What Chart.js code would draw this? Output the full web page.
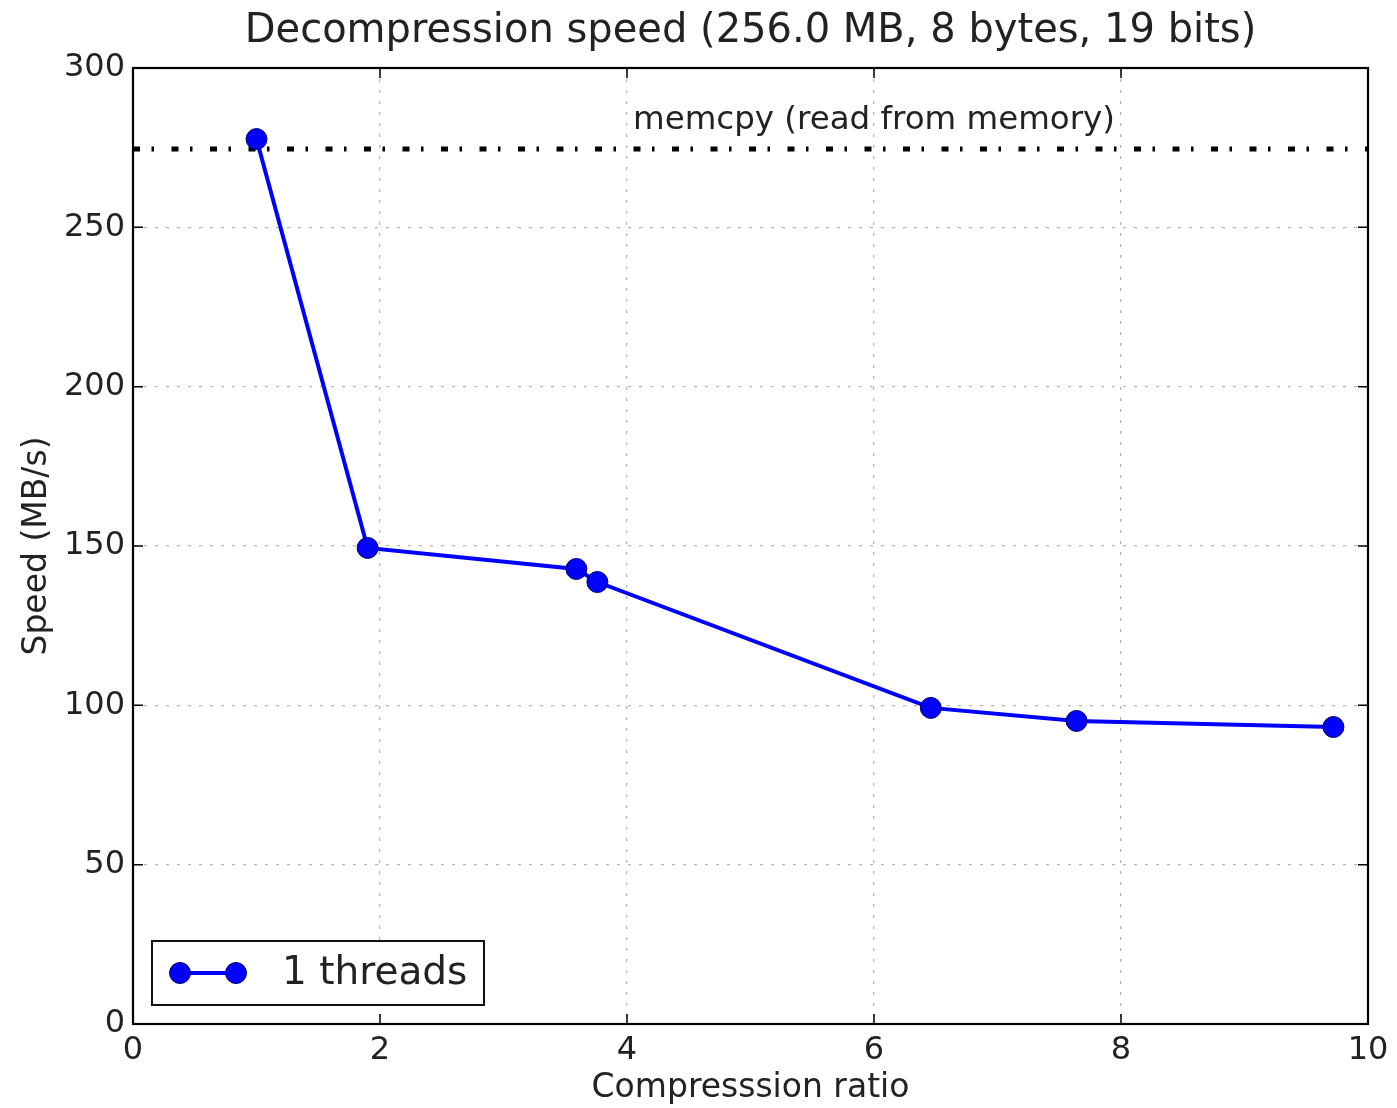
<!DOCTYPE html>
<html>
<head>
<meta charset="utf-8">
<script src="https://cdn.jsdelivr.net/npm/chart.js@4/dist/chart.umd.min.js"></script>
<style>
html,body{margin:0;padding:0;background:#fff;}
#c{display:block;}
</style>
</head>
<body>
<canvas id="c" width="1397" height="1108"></canvas>
<script>
// ---- data ----
const titleText = 'Decompression speed (256.0 MB, 8 bytes, 19 bits)';
const xLabel = 'Compresssion ratio';
const yLabel = 'Speed (MB/s)';
const seriesName = '1 threads';
const ratios = [1.00, 1.90, 3.59, 3.76, 6.46, 7.64, 9.72];
const speeds = [277.7, 149.4, 142.8, 138.7, 99.2, 95.1, 93.2];
const memcpyLabel = 'memcpy (read from memory)';
const memcpySpeed = 274.6;
const memcpyX = [0, 10];
const xTicks = [0, 2, 4, 6, 8, 10];
const yTicks = [0, 50, 100, 150, 200, 250, 300];
const annotX = 6.0;
const annotY = 283.4;

const FONT = "'DejaVu Sans', 'Bitstream Vera Sans', sans-serif";
const TXT = '#222';
const BLUE = '#0000ff';

const framePlugin = {
  id: 'frame',
  afterDraw(chart) {
    const {ctx, chartArea: a, scales} = chart;
    const xs = scales.x, ys = scales.y;
    ctx.save();
    // inward ticks
    ctx.strokeStyle = '#000';
    ctx.lineWidth = 1.5;
    const tl = 10;
    xTicks.forEach(v => {
      const px = xs.getPixelForValue(v);
      ctx.beginPath();
      ctx.moveTo(px, a.bottom); ctx.lineTo(px, a.bottom - tl);
      ctx.moveTo(px, a.top); ctx.lineTo(px, a.top + tl);
      ctx.stroke();
    });
    yTicks.forEach(v => {
      const py = ys.getPixelForValue(v);
      ctx.beginPath();
      ctx.moveTo(a.left, py); ctx.lineTo(a.left + tl, py);
      ctx.moveTo(a.right, py); ctx.lineTo(a.right - tl, py);
      ctx.stroke();
    });
    // frame
    ctx.lineWidth = 2.2;
    ctx.strokeRect(a.left, a.top, a.right - a.left, a.bottom - a.top);
    // title centred over the plot area
    ctx.fillStyle = TXT;
    ctx.font = '40px ' + FONT;
    ctx.textAlign = 'center';
    ctx.textBaseline = 'middle';
    ctx.fillText(titleText, (a.left + a.right) / 2, 32);
    // annotation
    ctx.font = '32.5px ' + FONT;
    ctx.fillText(memcpyLabel, xs.getPixelForValue(annotX), ys.getPixelForValue(annotY));
    // legend
    const bx = a.left + 19, by = a.bottom - 83, bw = 332, bh = 64;
    ctx.fillStyle = '#fff';
    ctx.fillRect(bx, by, bw, bh);
    ctx.strokeStyle = '#111';
    ctx.lineWidth = 2;
    ctx.strokeRect(bx, by, bw, bh);
    const ly = by + bh / 2;
    ctx.strokeStyle = BLUE;
    ctx.lineWidth = 4;
    ctx.beginPath();
    ctx.moveTo(bx + 28, ly); ctx.lineTo(bx + 84, ly);
    ctx.stroke();
    ctx.fillStyle = BLUE;
    [bx + 28, bx + 84].forEach(cx => {
      ctx.beginPath();
      ctx.arc(cx, ly, 10.5, 0, Math.PI * 2);
      ctx.fill();
      ctx.lineWidth = 1;
      ctx.strokeStyle = '#000060';
      ctx.stroke();
    });
    ctx.fillStyle = TXT;
    ctx.font = '39px ' + FONT;
    ctx.textAlign = 'left';
    ctx.textBaseline = 'middle';
    ctx.fillText(seriesName, bx + 130, ly + 1);
    ctx.restore();
  }
};

const gridColor = (ctx, edges) => {
  const v = ctx.tick ? ctx.tick.value : null;
  return edges.includes(v) ? 'rgba(0,0,0,0)' : '#b5b5b5';
};

new Chart(document.getElementById('c'), {
  type: 'line',
  data: {
    datasets: [
      {
        label: seriesName,
        data: ratios.map((r, i) => ({x: r, y: speeds[i]})),
        borderColor: BLUE,
        backgroundColor: BLUE,
        borderWidth: 4,
        pointRadius: 10.5,
        pointBackgroundColor: BLUE,
        pointBorderColor: '#000060',
        pointBorderWidth: 1,
        tension: 0,
        fill: false,
        clip: false
      },
      {
        label: memcpyLabel,
        data: memcpyX.map(x => ({x: x, y: memcpySpeed})),
        borderColor: '#000',
        borderWidth: 5,
        borderDash: [7, 11.5, 2.5, 17.5],
        borderCapStyle: 'butt',
        pointRadius: 0,
        fill: false
      }
    ]
  },
  options: {
    responsive: false,
    animation: false,
    events: [],
    layout: {padding: {left: 0, right: 29, top: 68, bottom: 0}},
    plugins: {
      legend: {display: false},
      tooltip: {enabled: false},
      title: {display: false}
    },
    scales: {
      x: {
        type: 'linear',
        min: 0, max: 10,
        afterBuildTicks: s => { s.ticks = xTicks.map(v => ({value: v})); },
        afterFit: s => { s.height = 84; },
        ticks: {
          color: TXT,
          font: {family: FONT, size: 32},
          padding: 7,
          maxRotation: 0,
          autoSkip: false
        },
        grid: {
          drawTicks: false,
          tickLength: 0,
          lineWidth: 1.3,
          color: ctx => gridColor(ctx, [0, 10])
        },
        border: {display: false, dash: [3, 8]},
        title: {
          display: true,
          text: xLabel,
          color: TXT,
          font: {family: FONT, size: 33},
          padding: {top: 0, bottom: 0}
        }
      },
      y: {
        type: 'linear',
        min: 0, max: 300,
        afterBuildTicks: s => { s.ticks = yTicks.map(v => ({value: v})); },
        afterFit: s => { s.width = 133; },
        ticks: {
          color: TXT,
          font: {family: FONT, size: 32},
          padding: 8
        },
        grid: {
          drawTicks: false,
          tickLength: 0,
          lineWidth: 1.3,
          color: ctx => gridColor(ctx, [0, 300])
        },
        border: {display: false, dash: [3, 8]},
        title: {
          display: true,
          text: yLabel,
          color: TXT,
          font: {family: FONT, size: 33},
          padding: {top: 18, bottom: 0}
        }
      }
    }
  },
  plugins: [framePlugin]
});
</script>
</body>
</html>
